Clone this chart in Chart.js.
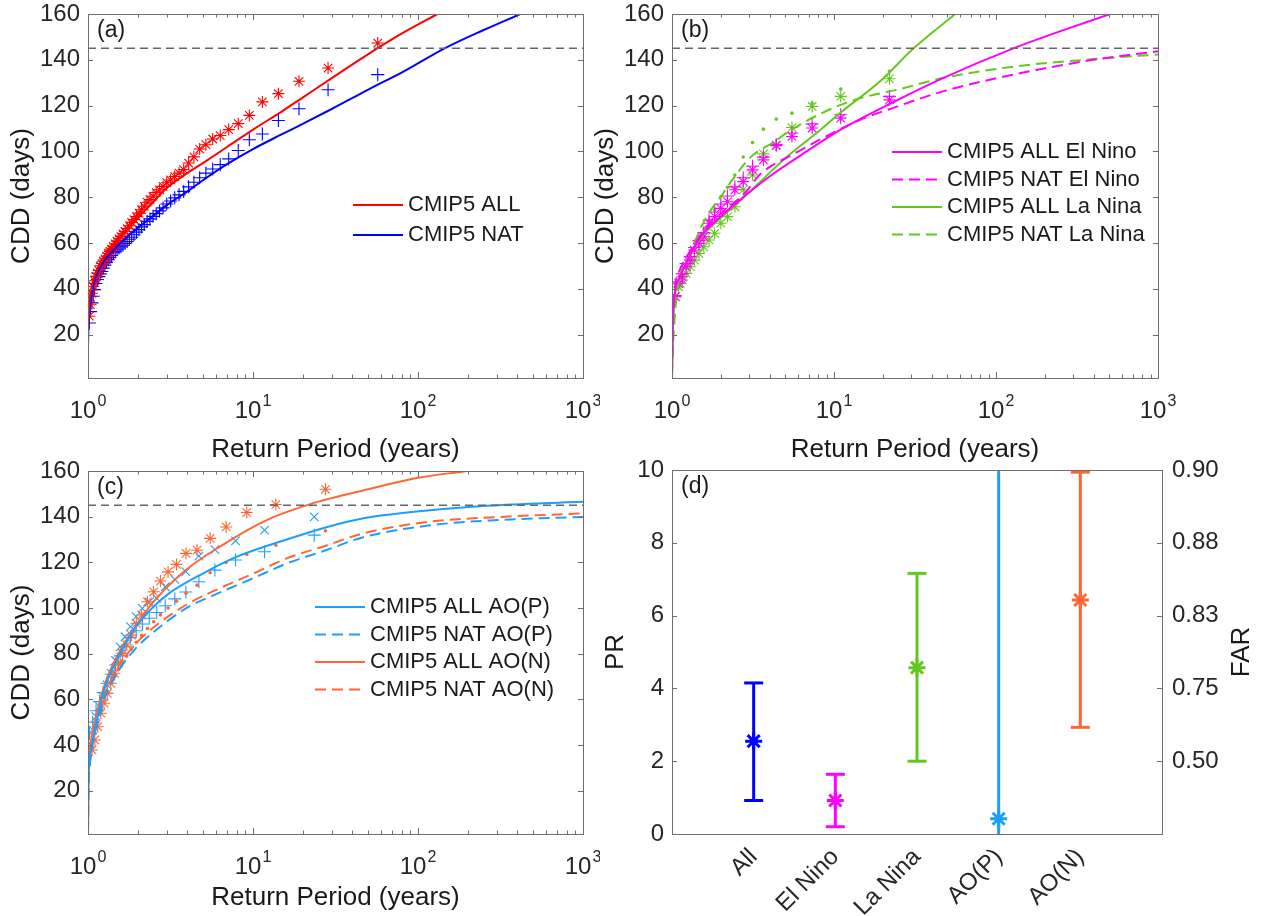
<!DOCTYPE html>
<html>
<head>
<meta charset="utf-8">
<script src="https://cdn.jsdelivr.net/npm/chart.js@4.4.1/dist/chart.umd.min.js"></script>
<style>
  html, body { margin: 0; padding: 0; background: #fff; }
  #wrap { position: relative; width: 1267px; height: 916px; overflow: hidden; background: #fff; }
  canvas { position: absolute; }
</style>
</head>
<body>
<div id="wrap">
  <canvas id="chartA" width="600" height="466" style="left:0px;top:0px"></canvas>
  <canvas id="chartB" width="615" height="466" style="left:585px;top:0px"></canvas>
  <canvas id="chartC" width="600" height="460" style="left:0px;top:456px"></canvas>
  <canvas id="chartD" width="682" height="460" style="left:585px;top:456px"></canvas>
</div>
<script>
// ---- shared axis ticks ----
const logTicks = [1, 10, 100, 1000];
const logTickBase = '10';
const logTickExp = ['0', '1', '2', '3'];
const cddTicks = [20, 40, 60, 80, 100, 120, 140, 160];
const threshold = 145;

// ---- panel (a) ----
const aAllT = [1.0, 1.01, 1.03, 1.06, 1.1, 1.2, 1.35, 1.5, 1.75, 2, 2.5, 3, 4, 5, 7, 10, 15, 20, 30, 50, 80, 131];
const aAllLine = [22, 30, 37, 42, 46, 52, 57.5, 61.5, 66.5, 71, 78, 84, 90.5, 95, 102, 109.5, 117.5, 123.5, 132, 142.5, 151.5, 160];
const aNatT = [1.0, 1.01, 1.03, 1.06, 1.1, 1.2, 1.35, 1.5, 1.75, 2, 2.5, 3, 4, 5, 7, 10, 15, 20, 30, 50, 80, 145, 250, 417];
const aNatLine = [15, 27, 33, 39, 44, 50, 55, 58.5, 63, 66.5, 72, 76.5, 82.5, 87.5, 94.5, 101, 107.5, 112, 118.5, 127, 134.5, 145, 153, 160];
const aMarkT = [57, 28.5, 19, 14.25, 11.4, 9.5, 8.143, 7.125, 6.333, 5.7, 5.182, 4.75, 4.385, 4.071, 3.8, 3.563,
  3.353, 3.167, 3, 2.85, 2.714, 2.591, 2.478, 2.375, 2.28, 2.192, 2.111, 2.036, 1.966, 1.9, 1.839, 1.781, 1.727,
  1.676, 1.629, 1.583, 1.541, 1.5, 1.462, 1.425, 1.39, 1.357, 1.326, 1.295, 1.267, 1.239, 1.213, 1.188, 1.163,
  1.14, 1.118, 1.096, 1.075, 1.056, 1.036, 1.018];
const aAllMarks = [147.3, 136.4, 130.6, 125.2, 121.6, 115.7, 112.1, 109.5, 106.9, 105.4, 102.9, 101, 97.6, 94.9, 92,
  90.5, 89, 87.5, 86.3, 84.7, 83.2, 82, 80.4, 79, 77.8, 76, 74.5, 73, 71.5, 70.2, 69, 67.5, 66.3, 65, 64, 62.8,
  61.8, 60.8, 59.6, 58.5, 57.3, 56.3, 55.5, 54.2, 53, 52, 51, 50, 48, 46.8, 45.4, 43.5, 41, 38, 33, 28];
const aNatMarks = [133.5, 126.9, 118.6, 113.5, 107.6, 105.1, 100.4, 96.7, 94.2, 92.3, 90.5, 88.5, 86.5, 84.5, 82.5,
  81, 79.7, 78.3, 77, 75.3, 74, 72.8, 71.6, 70.5, 69.4, 68, 67, 65.8, 64.7, 63.6, 62.5, 61.6, 60.6, 59.8, 59, 58.3,
  57.8, 57, 56.3, 55.7, 54.5, 53.6, 52.7, 51.5, 50.3, 49, 47.5, 46.5, 45.3, 44, 42.3, 39.6, 36.7, 33.8, 30, 25];

// ---- panel (b) ----
const bAllElT = [1.0, 1.01, 1.04, 1.1, 1.2, 1.5, 2, 2.5, 4, 6.3, 11, 24, 47, 128, 250, 507];
const bAllElLine = [3, 22, 38, 44, 50, 62.5, 71.5, 77.5, 89, 98.5, 109.5, 122, 132, 145, 152.5, 160];
const bNatElT = [1.0, 1.01, 1.04, 1.1, 1.2, 1.38, 1.6, 2.07, 2.81, 3.5, 5.7, 9.2, 14.5, 23, 47, 128, 400, 1000];
const bNatElLine = [3, 25, 40, 47, 52.5, 59.5, 66, 73.7, 81.7, 90, 99, 107, 113.8, 118.9, 126.2, 133.5, 140, 143.7];
const bAllLaT = [1.0, 1.01, 1.04, 1.1, 1.2, 1.5, 2, 2.5, 3.6, 5, 7.5, 11, 19.5, 31, 56];
const bAllLaLine = [2, 20, 36, 44, 50, 62, 71, 77, 87.5, 97, 107, 117, 131, 145, 160];
const bNatLaT = [1.0, 1.014, 1.09, 1.26, 1.45, 1.67, 2.0, 2.44, 3.08, 4.3, 5.2, 8.3, 13.4, 24.8, 47, 128, 400, 1000];
const bNatLaLine = [2, 15, 41, 52.5, 64, 72.5, 80.2, 89, 97.7, 104.3, 108.5, 116.5, 122.5, 127, 132, 137, 140.3, 142.3];
const bMarkT = [22, 11, 7.333, 5.5, 4.4, 3.667, 3.143, 2.75, 2.444, 2.2, 2, 1.833, 1.692, 1.571, 1.467, 1.375,
  1.294, 1.222, 1.158, 1.1, 1.048];
const bAllElMarks = [122.5, 114.5, 110.2, 106.5, 102.5, 96.3, 91.9, 86.8, 83.2, 78, 75.1, 71.5, 68.6, 62.7, 59.8,
  56.9, 52.5, 49.6, 45.2, 42.3, 36.5];
const bNatElMarks = [124, 116, 112, 108, 103, 97.5, 93.5, 88.5, 84.5, 80.5, 77, 73.5, 70, 64.5, 61, 58, 54, 51,
  46.5, 43, 37];
const bAllLaMarks = [131.7, 124, 119.6, 110.4, 102.8, 98.9, 89.7, 83.2, 75.8, 71.5, 68.6, 64.2, 61.3, 58.3, 55.4,
  52.5, 49.6, 46.7, 43.8, 40.8, 36.5];
const bNatLaMarks = [135, 127.2, 121, 116.7, 114.1, 109.7, 103.9, 97.5, 89.7, 84.3, 80.2, 74.4, 70, 66, 62, 58,
  54, 50, 46, 42, 37];

// ---- panel (c) ----
const cAllPT = [1.0, 1.005, 1.02, 1.053, 1.157, 1.27, 1.53, 1.93, 2.45, 3.1, 4.96, 7.93, 16, 28.2, 46, 118, 364, 1000];
const cAllPLine = [1, 22, 32, 39.3, 53.9, 65.5, 78.6, 91.3, 100, 106.4, 115.1, 122.4, 130, 135.5, 139.2, 142.8, 145.3, 146.5];
const cNatT = [1.0, 1.005, 1.02, 1.053, 1.157, 1.27, 1.53, 1.93, 2.45, 3.92, 6.27, 10, 16, 28.2, 46, 118, 300, 1000];
const cNatPLine = [1, 19, 29, 38, 51, 61, 72.5, 82, 89, 99.8, 106.7, 113, 119.5, 125.5, 130.9, 136.2, 138.5, 139.9];
const cNatNLine = [1, 20, 30, 39, 52.4, 62.6, 74.3, 84, 91, 101.3, 108.6, 115, 121.7, 127.5, 132.6, 137.8, 139.8, 141.4];
const cAllNT = [1.0, 1.005, 1.02, 1.053, 1.157, 1.27, 1.53, 1.94, 2.45, 3.92, 6.27, 12.1, 22.2, 50, 100, 198];
const cAllNLine = [1, 29, 37, 43.6, 56.8, 67, 80.1, 91.8, 102, 116.6, 126.8, 138.5, 145.5, 152, 157, 160];
const cMarkNT = [27.5, 13.75, 9.167, 6.875, 5.5, 4.583, 3.929, 3.438, 3.056, 2.75, 2.5, 2.292, 2.115, 1.964, 1.833,
  1.719, 1.618, 1.528, 1.447, 1.375, 1.31, 1.25, 1.196, 1.146, 1.1, 1.058];
const cAllNMarks = [152, 145.3, 141.8, 135.5, 130.5, 125.3, 123.9, 119.1, 115.8, 111.8, 107.1, 102.7, 96.9, 93.3,
  88.1, 83.8, 80.1, 75.8, 71.4, 67, 62.6, 58.3, 53.9, 48, 42.2, 37.8];
const cNatNMarks = [133.8, 127.5, 123.4, 119.9, 115.4, 110, 106.5, 103, 100, 97, 94, 91, 88, 85, 82, 79, 76, 73, 70,
  67, 63, 59, 55, 50, 45, 39];
const cMarkPT = [23.5, 11.75, 7.833, 5.875, 4.7, 3.917, 3.357, 2.938, 2.611, 2.35, 2.136, 1.958, 1.808, 1.679, 1.567,
  1.469, 1.382, 1.306, 1.237, 1.175, 1.119, 1.068, 1.022];
const cAllPMarks = [139.9, 134.1, 129.4, 125.6, 122.7, 115.9, 112.5, 109.3, 104.2, 102.7, 99.8, 96.2, 91.8, 87.4, 83,
  77, 71.4, 66.3, 61.2, 56.8, 52.4, 46.6, 40.8];
const cNatPMarks = [131.9, 124.6, 121, 116.6, 111.5, 107, 104, 101, 98, 95.5, 93, 90, 87, 83, 79, 75, 71, 67, 63, 59,
  55, 50, 45];

// ---- panel (d) ----
const dCats = ['All', 'El Nino', 'La Nina', 'AO(P)', 'AO(N)'];
const dPR = [2.55, 0.92, 4.57, 0.42, 6.43];
const dLow = [0.92, 0.2, 2.0, 0, 2.93];
const dHigh = [4.15, 1.64, 7.16, 20, 9.94];
const prTicks = [0, 2, 4, 6, 8, 10];
const farLabels = ['', '0.50', '0.75', '0.83', '0.88', '0.90'];

// ---- colours ----
const RED = '#ff0000', BLUE = '#0000ff', MAG = '#ff00ff', GREEN = '#62c91c', SKY = '#1a9fff', ORANGE = '#ff6633';
const dColors = [BLUE, MAG, GREEN, SKY, ORANGE];
const FONT = '"Liberation Sans", Arial, sans-serif';

Chart.defaults.font.family = '"Liberation Sans", Arial, Helvetica, sans-serif';
Chart.defaults.color = '#262626';
Chart.defaults.animation = false;
Chart.defaults.events = [];

function pts(xs, ys) { return xs.map((x, i) => ({x: x, y: ys[i]})); }

function curve(label, T, V, color, dashed) {
  return {label: label, data: pts(T, V), showLine: true, borderColor: color, borderWidth: 2,
    borderDash: dashed ? [11, 6] : [], pointRadius: 0, cubicInterpolationMode: 'monotone', inLegend: true};
}
function marks(T, V, color, style, r) {
  return {data: pts(T, V), showLine: false, pointStyle: style, pointRadius: r, borderColor: color,
    backgroundColor: color, pointBorderWidth: style === 'circle' ? 0 : 1.1};
}
function refLine() {
  return {data: [{x: 1, y: threshold}, {x: 1000, y: threshold}], showLine: true, borderColor: '#666666',
    borderWidth: 1.5, borderDash: [8, 5], pointRadius: 0};
}

// fixed axis sizes, no overflow padding from labels
function fixW(w) { return s => { s.width = w; s.paddingTop = 0; s.paddingBottom = 0; }; }
function fixH(h) { return s => { s.height = h; s.paddingLeft = 0; s.paddingRight = 0; }; }

// box, inward ticks, 10^n labels, panel tag and legend
const decor = {
  id: 'decor',
  afterDatasetsDraw(chart, args, o) {
    const ctx = chart.ctx, a = chart.chartArea;
    const xs = chart.scales.x, ys = chart.scales.y;
    ctx.save();
    ctx.strokeStyle = '#6e6e6e';
    ctx.lineWidth = 1;
    ctx.setLineDash([]);
    ctx.beginPath();
    if (o.logX) {
      for (let e = 0; e < 3; e++) {
        for (let m = 1; m < 10; m++) {
          const px = Math.round(xs.getPixelForValue(m * Math.pow(10, e))) + 0.5;
          const len = m === 1 ? 6 : 3.5;
          ctx.moveTo(px, a.bottom); ctx.lineTo(px, a.bottom - len);
          ctx.moveTo(px, a.top); ctx.lineTo(px, a.top + len);
        }
      }
    }
    ys.ticks.forEach(t => {
      const py = Math.round(ys.getPixelForValue(t.value)) + 0.5;
      ctx.moveTo(a.left, py); ctx.lineTo(a.left + 5, py);
      ctx.moveTo(a.right, py); ctx.lineTo(a.right - 5, py);
    });
    ctx.stroke();
    ctx.strokeRect(Math.round(a.left) + 0.5, Math.round(a.top) + 0.5, Math.round(a.right - a.left), Math.round(a.bottom - a.top));

    ctx.fillStyle = '#262626';
    ctx.textAlign = 'left';
    if (o.logX) {
      ctx.textBaseline = 'alphabetic';
      logTicks.forEach((v, i) => {
        const px = xs.getPixelForValue(v);
        ctx.font = '24px ' + FONT;
        const w1 = ctx.measureText(logTickBase).width;
        ctx.font = '16px ' + FONT;
        const w2 = ctx.measureText(logTickExp[i]).width;
        const x0 = px - (w1 + w2 + 1) / 2;
        ctx.font = '24px ' + FONT;
        ctx.fillText(logTickBase, x0, a.bottom + 40);
        ctx.font = '16px ' + FONT;
        ctx.fillText(logTickExp[i], x0 + w1 + 1, a.bottom + 28);
      });
    }

    ctx.fillStyle = '#1a1a1a';
    ctx.font = '23px ' + FONT;
    ctx.textBaseline = 'middle';
    ctx.fillText(o.tag, a.left + 9, a.top + 17);

    if (o.legend) {
      const L = o.legend;
      ctx.font = '22px ' + FONT;
      chart.data.datasets.filter(d => d.inLegend).forEach((d, i) => {
        const y = L.y + i * L.gap;
        ctx.strokeStyle = d.borderColor;
        ctx.lineWidth = 2;
        ctx.setLineDash(d.borderDash || []);
        ctx.beginPath();
        ctx.moveTo(L.x, y); ctx.lineTo(L.x + 50, y);
        ctx.stroke();
        ctx.setLineDash([]);
        ctx.fillStyle = '#1a1a1a';
        ctx.fillText(d.label, L.x + 55, y);
      });
    }
    if (o.rightTitle) {
      ctx.font = '26px ' + FONT;
      ctx.fillStyle = '#1a1a1a';
      ctx.textAlign = 'center';
      ctx.translate(o.rightTitle.x, (a.top + a.bottom) / 2);
      ctx.rotate(-Math.PI / 2);
      ctx.fillText(o.rightTitle.text, 0, 0);
    }
    ctx.restore();
  }
};

function logX(h, pb) {
  return {
    type: 'logarithmic', min: 1, max: 1000,
    afterBuildTicks: s => { s.ticks = logTicks.map(v => ({value: v})); },
    afterFit: fixH(h),
    ticks: {display: false},
    grid: {display: false, drawTicks: false},
    border: {display: false},
    title: {display: true, text: 'Return Period (years)', color: '#1a1a1a', font: {size: 26}, padding: {top: 0, bottom: pb}}
  };
}
function cddY(w, pt) {
  return {
    type: 'linear', min: 1, max: 160,
    afterBuildTicks: s => { s.ticks = cddTicks.map(v => ({value: v})); },
    afterFit: fixW(w),
    ticks: {padding: 8, font: {size: 24}},
    grid: {display: false, drawTicks: false},
    border: {display: false},
    title: {display: true, text: 'CDD (days)', color: '#1a1a1a', font: {size: 26}, padding: {top: pt, bottom: 0}}
  };
}

// (a)
new Chart(document.getElementById('chartA'), {
  type: 'scatter',
  data: {datasets: [
    refLine(),
    curve('CMIP5 ALL', aAllT, aAllLine, RED, false),
    curve('CMIP5 NAT', aNatT, aNatLine, BLUE, false),
    marks(aMarkT, aAllMarks, RED, 'star', 6),
    marks(aMarkT, aNatMarks, BLUE, 'cross', 6.5)
  ]},
  options: {
    responsive: false,
    layout: {padding: {top: 14, right: 17, left: 0, bottom: 0}},
    scales: {x: logX(88, 0.5), y: cddY(88, 6)},
    plugins: {legend: {display: false}, tooltip: {enabled: false},
      decor: {tag: '(a)', logX: true, legend: {x: 353, y: 205, gap: 30}}}
  },
  plugins: [decor]
});

// (b)
new Chart(document.getElementById('chartB'), {
  type: 'scatter',
  data: {datasets: [
    refLine(),
    curve('CMIP5 ALL El Nino', bAllElT, bAllElLine, MAG, false),
    curve('CMIP5 NAT El Nino', bNatElT, bNatElLine, MAG, true),
    curve('CMIP5 ALL La Nina', bAllLaT, bAllLaLine, GREEN, false),
    curve('CMIP5 NAT La Nina', bNatLaT, bNatLaLine, GREEN, true),
    marks(bMarkT, bAllElMarks, MAG, 'star', 6),
    marks(bMarkT, bNatElMarks, MAG, 'cross', 6.5),
    marks(bMarkT, bAllLaMarks, GREEN, 'star', 6),
    marks(bMarkT, bNatLaMarks, GREEN, 'circle', 1.8)
  ]},
  options: {
    responsive: false,
    layout: {padding: {top: 14, right: 42, left: 0, bottom: 0}},
    scales: {x: logX(88, 0.5), y: cddY(87, 5)},
    plugins: {legend: {display: false}, tooltip: {enabled: false},
      decor: {tag: '(b)', logX: true, legend: {x: 307, y: 152, gap: 27.5}}}
  },
  plugins: [decor]
});

// (c)
new Chart(document.getElementById('chartC'), {
  type: 'scatter',
  data: {datasets: [
    refLine(),
    curve('CMIP5 ALL AO(P)', cAllPT, cAllPLine, SKY, false),
    curve('CMIP5 NAT AO(P)', cNatT, cNatPLine, SKY, true),
    curve('CMIP5 ALL AO(N)', cAllNT, cAllNLine, ORANGE, false),
    curve('CMIP5 NAT AO(N)', cNatT, cNatNLine, ORANGE, true),
    marks(cMarkNT, cAllNMarks, ORANGE, 'star', 6),
    marks(cMarkNT, cNatNMarks, ORANGE, 'circle', 1.8),
    marks(cMarkPT, cAllPMarks, SKY, 'crossRot', 6),
    marks(cMarkPT, cNatPMarks, SKY, 'cross', 6.5)
  ]},
  options: {
    responsive: false,
    layout: {padding: {top: 15, right: 17, left: 0, bottom: 0}},
    scales: {x: logX(82, 3), y: cddY(88, 6)},
    plugins: {legend: {display: false}, tooltip: {enabled: false},
      decor: {tag: '(c)', logX: true, legend: {x: 315, y: 151, gap: 27.5}}}
  },
  plugins: [decor]
});

// (d)
const dSets = [];
dCats.forEach((c, i) => {
  dSets.push({data: [{x: i + 1, y: dPR[i]}], showLine: false, pointStyle: 'star', pointRadius: 8.5,
    pointBorderWidth: 3, borderColor: dColors[i], backgroundColor: dColors[i]});
  dSets.push({data: [{x: i + 1, y: dLow[i]}, {x: i + 1, y: dHigh[i]}], showLine: true, borderColor: dColors[i],
    borderWidth: 3, pointStyle: 'line', pointRadius: i === 3 ? 0 : 9.5, pointBorderWidth: 3,
    backgroundColor: dColors[i]});
});
new Chart(document.getElementById('chartD'), {
  type: 'scatter',
  data: {datasets: dSets},
  options: {
    responsive: false,
    layout: {padding: {top: 14, right: 5, left: 0, bottom: 0}},
    scales: {
      x: {
        type: 'linear', min: 0, max: 6,
        afterBuildTicks: s => { s.ticks = dCats.map((c, i) => ({value: i + 1})); },
        afterFit: fixH(82),
        ticks: {autoSkip: false, minRotation: 45, maxRotation: 45, padding: 9, font: {size: 24},
          callback: (v, i) => dCats[i]},
        grid: {display: false, drawTicks: false},
        border: {display: false}
      },
      y: {
        type: 'linear', min: 0, max: 10, position: 'left',
        afterBuildTicks: s => { s.ticks = prTicks.map(v => ({value: v})); },
        afterFit: fixW(87),
        ticks: {padding: 8, font: {size: 24}},
        grid: {display: false, drawTicks: false},
        border: {display: false},
        title: {display: true, text: 'PR', color: '#1a1a1a', font: {size: 26}, padding: {top: 15.4, bottom: 0}}
      },
      y2: {
        type: 'linear', min: 0, max: 10, position: 'right',
        afterBuildTicks: s => { s.ticks = prTicks.map(v => ({value: v})); },
        afterFit: fixW(100),
        ticks: {padding: 10, font: {size: 24}, callback: (v, i) => farLabels[i]},
        grid: {display: false, drawTicks: false},
        border: {display: false}
      }
    },
    plugins: {legend: {display: false}, tooltip: {enabled: false},
      decor: {tag: '(d)', logX: false, rightTitle: {text: 'FAR', x: 657}}}
  },
  plugins: [decor]
});
</script>
</body>
</html>
